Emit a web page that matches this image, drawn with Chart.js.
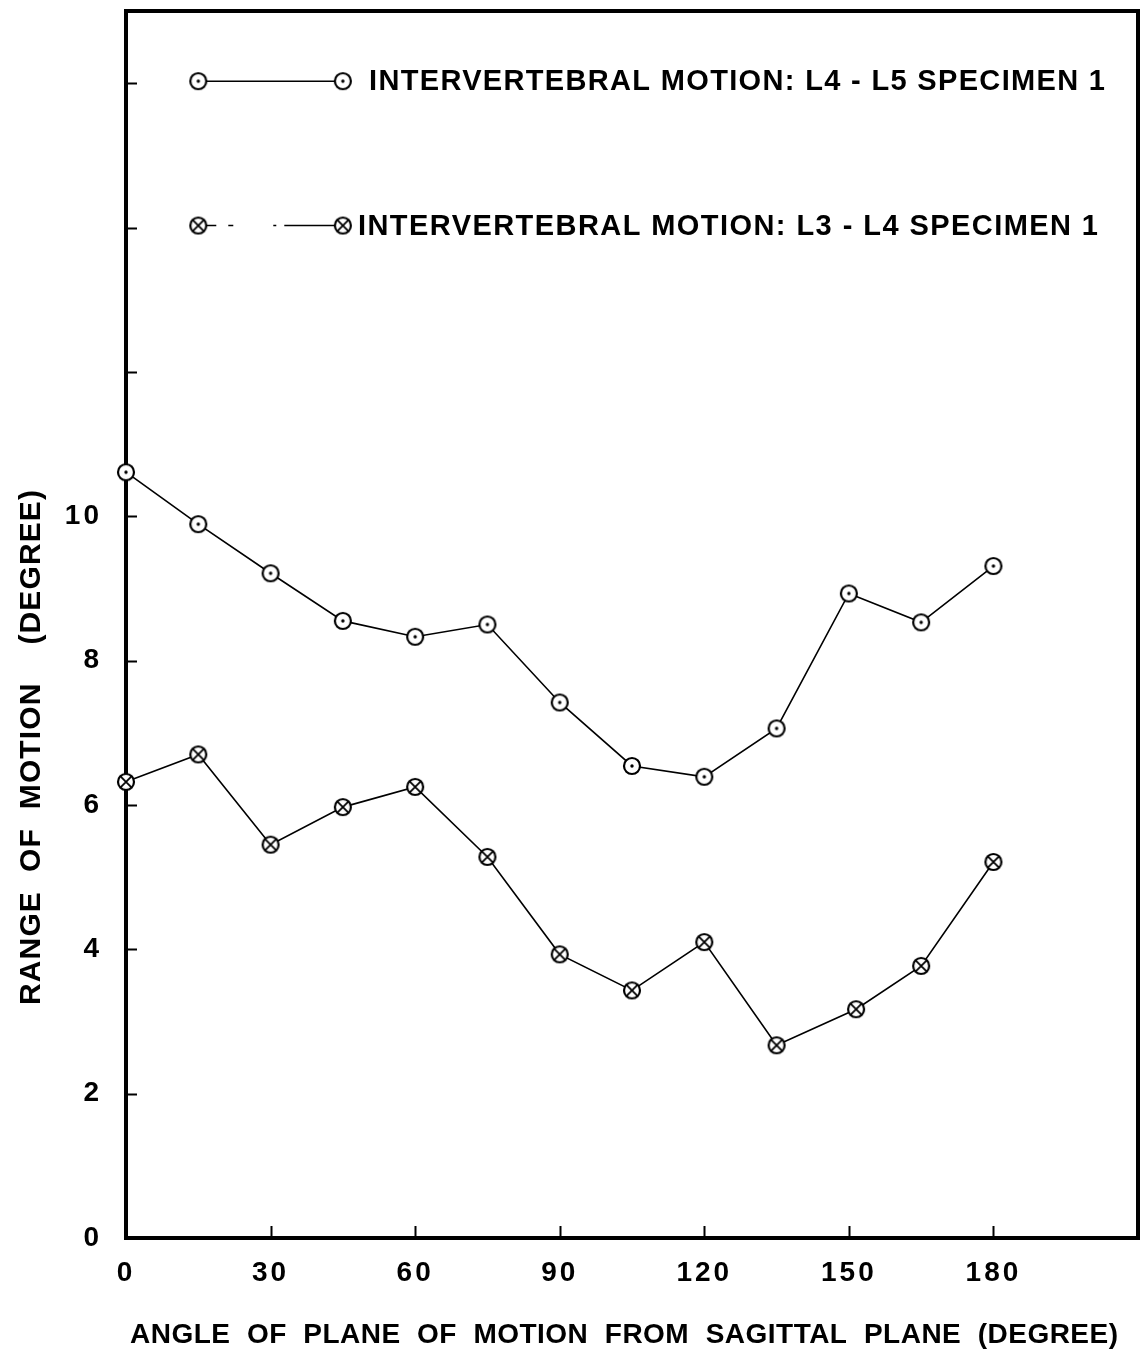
<!DOCTYPE html>
<html>
<head>
<meta charset="utf-8">
<script src="https://cdn.jsdelivr.net/npm/chart.js@4.4.1/dist/chart.umd.min.js"></script>
<style>
  html, body { margin: 0; padding: 0; background: #fff; }
  #wrap { width: 1145px; height: 1354px; }
</style>
</head>
<body>
<div id="wrap"><canvas id="chart" width="1145" height="1354"></canvas></div>
<script>
// angle of plane of motion from sagittal plane (deg)
const anglesL45 = [0, 15, 30, 45, 60, 75, 90, 105, 120, 135, 150, 165, 180];
const motionL45 = [10.61, 9.89, 9.21, 8.55, 8.33, 8.50, 7.42, 6.54, 6.39, 7.06, 8.93, 8.53, 9.31];
const anglesL34 = [0, 15, 30, 45, 60, 75, 90, 105, 120, 135, 151.5, 165, 180];
const motionL34 = [6.32, 6.70, 5.45, 5.97, 6.25, 5.28, 3.93, 3.43, 4.10, 2.67, 3.17, 3.77, 5.21];

const legendLabels = ['INTERVERTEBRAL MOTION: L4 - L5 SPECIMEN 1', 'INTERVERTEBRAL MOTION: L3 - L4 SPECIMEN 1'];
const legendRows = [16, 14];      // y value the legend rows sit on
const legendSpan = [15, 45];      // x range of the legend sample line
const xTickMarks = [30, 60, 90, 120, 150, 180];
const yTickMarks = [2, 4, 6, 8, 10, 12, 14, 16];
const yLabelMax = 10;
const xLabelMax = 180;
const xTitle = 'ANGLE  OF  PLANE  OF  MOTION  FROM  SAGITTAL  PLANE  (DEGREE)';
const yTitle = 'RANGE  OF  MOTION    (DEGREE)';

const FONT = 'Liberation Sans, Arial, sans-serif';

function makeMarker(kind) {
  const c = document.createElement('canvas');
  c.width = 22; c.height = 22;
  const g = c.getContext('2d');
  g.beginPath();
  g.arc(11, 11, 8, 0, Math.PI * 2);
  g.fillStyle = '#fff';
  g.fill();
  g.lineWidth = 2.2;
  g.strokeStyle = '#000';
  g.stroke();
  g.fillStyle = '#000';
  if (kind === 'dot') {
    g.beginPath();
    g.arc(11, 11, 1.7, 0, Math.PI * 2);
    g.fill();
  } else {
    const d = 5.6;
    g.lineWidth = 1.8;
    g.beginPath();
    g.moveTo(11 - d, 11 - d); g.lineTo(11 + d, 11 + d);
    g.moveTo(11 + d, 11 - d); g.lineTo(11 - d, 11 + d);
    g.stroke();
  }
  return c;
}
const dotMarker = makeMarker('dot');
const crossMarker = makeMarker('cross');

function spacedText(ctx, text, x, y, width, size) {
  ctx.font = 'bold ' + size + 'px ' + FONT;
  ctx.letterSpacing = '0px';
  const w = ctx.measureText(text).width;
  const ls = (width - w) / (text.length - 1);
  ctx.letterSpacing = ls + 'px';
  ctx.textAlign = 'left';
  ctx.textBaseline = 'middle';
  ctx.fillText(text, x, y);
  ctx.letterSpacing = '0px';
}

const framePlugin = {
  id: 'frame',
  beforeDraw(chart) {
    chart.ctx.letterSpacing = '3px';
  },
  beforeDatasetsDraw(chart) {
    const { ctx, chartArea: a, scales: { x, y } } = chart;
    ctx.save();
    ctx.letterSpacing = '0px';
    ctx.strokeStyle = '#000';
    ctx.lineWidth = 4;
    ctx.strokeRect(a.left, a.top, a.right - a.left, a.bottom - a.top);
    ctx.lineWidth = 2;
    ctx.beginPath();
    yTickMarks.forEach(v => {
      const py = Math.round(y.getPixelForValue(v)) + 0.5;
      ctx.moveTo(a.left, py); ctx.lineTo(a.left + 11, py);
    });
    xTickMarks.forEach(v => {
      const px = Math.round(x.getPixelForValue(v)) + 0.5;
      ctx.moveTo(px, a.bottom); ctx.lineTo(px, a.bottom - 12);
    });
    ctx.stroke();

    // legend rows
    const markers = [dotMarker, crossMarker];
    legendRows.forEach((row, i) => {
      const py = y.getPixelForValue(row) - 2;
      const x0 = x.getPixelForValue(legendSpan[0]);
      const x1 = x.getPixelForValue(legendSpan[1]);
      ctx.lineWidth = 1.6;
      ctx.setLineDash(i === 0 ? [] : [18, 12, 5, 40, 3, 8, 400]);
      ctx.beginPath();
      ctx.moveTo(x0, py); ctx.lineTo(x1, py);
      ctx.stroke();
      ctx.setLineDash([]);
      ctx.drawImage(markers[i], x0 - 11, py - 11);
      ctx.drawImage(markers[i], x1 - 11, py - 11);
      ctx.fillStyle = '#000';
      const tx = i === 0 ? 369 : 358;
      spacedText(ctx, legendLabels[i], tx, py + 1, i === 0 ? 736 : 740, 29);
    });

    // axis titles
    spacedText(ctx, xTitle, 130, 1335, 988, 28);
    ctx.translate(32, 1005);
    ctx.rotate(-Math.PI / 2);
    spacedText(ctx, yTitle, 0, 0, 515, 30);
    ctx.restore();
  }
};

new Chart(document.getElementById('chart'), {
  type: 'line',
  data: {
    datasets: [
      {
        label: legendLabels[0],
        data: anglesL45.map((a, i) => ({ x: a, y: motionL45[i] })),
        borderColor: '#000',
        borderWidth: 1.6,
        pointStyle: dotMarker,
        tension: 0,
        clip: false
      },
      {
        label: legendLabels[1],
        data: anglesL34.map((a, i) => ({ x: a, y: motionL34[i] })),
        borderColor: '#000',
        borderWidth: 1.6,
        pointStyle: crossMarker,
        tension: 0,
        clip: false
      }
    ]
  },
  options: {
    responsive: false,
    animation: false,
    layout: { padding: { top: 11, right: 7, left: 0, bottom: 0 } },
    plugins: { legend: { display: false }, tooltip: { enabled: false } },
    scales: {
      x: {
        type: 'linear',
        min: 0,
        max: 210,
        grid: { display: false, drawTicks: false },
        border: { display: false },
        ticks: {
          stepSize: 30,
          padding: 18,
          color: '#000',
          font: { family: FONT, weight: 'bold', size: 28 },
          callback: v => (v <= xLabelMax ? v : '')
        },
        afterFit: s => {
          s.height = 116;
          s.paddingLeft = 0; s.paddingRight = 0;
        }
      },
      y: {
        min: 0,
        max: 17,
        grid: { display: false, drawTicks: false },
        border: { display: false },
        ticks: {
          stepSize: 2,
          padding: 24,
          color: '#000',
          font: { family: FONT, weight: 'bold', size: 28 },
          callback: v => (v <= yLabelMax ? v : '')
        },
        afterFit: s => {
          s.width = 126;
          s.paddingTop = 0; s.paddingBottom = 0;
        }
      }
    }
  },
  plugins: [framePlugin]
});
</script>
</body>
</html>
